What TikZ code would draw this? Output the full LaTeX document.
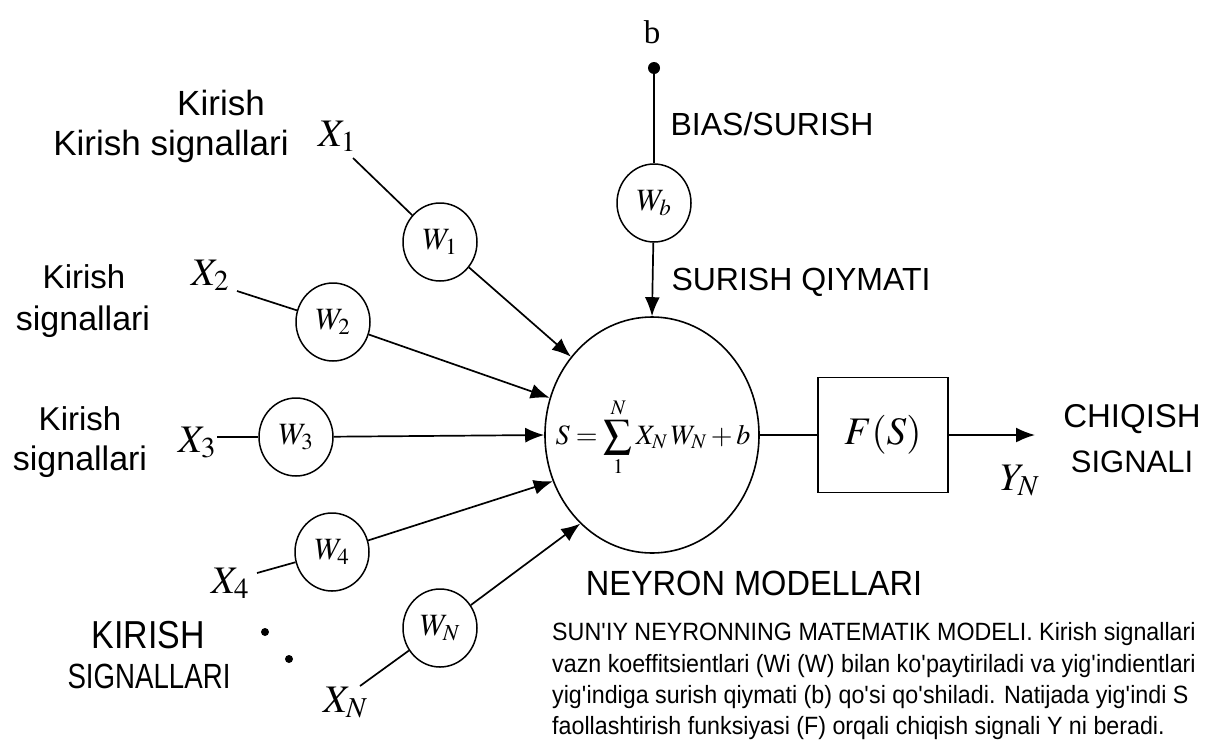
\documentclass[tikz,border=0pt]{standalone}
\usepackage{mathptmx}
\usepackage[no-math]{fontspec}
\setmainfont{Liberation Serif}
\newfontfamily\sansr{Liberation Sans}
\newfontfamily\sansm[FakeStretch=0.93]{Liberation Sans}
\newfontfamily\sansn[FakeStretch=0.87]{Liberation Sans}
\newfontfamily\sansnn[FakeStretch=0.79]{Liberation Sans}
\usetikzlibrary{shapes.geometric,arrows.meta}
\newcommand{\qs}{\textquotesingle}

\begin{document}
\begin{tikzpicture}[x=1pt,y=-1pt,
  conn/.style={line width=1.7pt},
  arr/.style={conn,-{Latex[length=19pt,width=15pt]}},
  wgt/.style={draw,ellipse,line width=1.5pt,minimum width=74pt,minimum height=78pt,
    inner sep=0pt,font=\fontsize{31}{34}\selectfont},
  neuron/.style={draw,ellipse,line width=1.6pt,minimum width=214pt,minimum height=236pt,
    inner sep=0pt},
  actbox/.style={draw,line width=1.6pt,minimum width=130pt,minimum height=115pt,
    inner sep=0pt,font=\fontsize{39}{42}\selectfont},
  xlab/.style={anchor=base west,inner sep=0pt,font=\fontsize{39}{42}\selectfont},
  tx/.style={anchor=base,inner sep=0pt},
  dotn/.style={circle,fill,inner sep=0pt,minimum size=#1},
]
\useasboundingbox (0,0) rectangle (1206,745);
\fill[white] (0,0) rectangle (1206,745);

% neuron body, its summation formula and the activation block
\node[neuron] (N) at (652,435) {};
\node[inner sep=0pt,font=\fontsize{28}{32}\selectfont] (eq) at (653,437)
  {$\displaystyle S=\sum_{1}^{N}X_N\,W_N+b$};
\node[actbox] (F) at (883,435) {$F(S)$};
\coordinate (out) at (1035,435);
\draw[conn] (N) -- (F);
\draw[arr] (F) -- (out);
\node[xlab] (Y) at (1000,490) {$Y_N$};
\node[tx,font=\sansr\fontsize{33}{36}\selectfont] (o1) at (1132,427) {CHIQISH};
\node[tx,font=\sansr\fontsize{31}{36}\selectfont] (o2) at (1132,472) {SIGNALI};
\node[tx,font=\sansm\fontsize{35}{38}\selectfont] (nm) at (754,595) {NEYRON MODELLARI};

% bias branch
\node[dotn=12pt] (bd) at (654,68) {};
\node[tx,font=\fontsize{33}{36}\selectfont] (bl) at (652,43) {b};
\node[wgt] (Wb) at (654,203) {$W_b$};
\draw[conn] (bd) -- (Wb);
\draw[arr] (Wb) -- (N.90);
\node[tx,font=\sansr\fontsize{32}{36}\selectfont] (bs) at (772,135) {BIAS/SURISH};
\node[tx,font=\sansr\fontsize{32}{36}\selectfont] (sq) at (801,290) {SURISH QIYMATI};

% weights
\node[wgt] (W1) at (440,242) {$W_1$};
\node[wgt] (W2) at (333,322) {$W_2$};
\node[wgt] (W3) at (296,437) {$W_3$};
\node[wgt] (W4) at (332,552) {$W_4$};
\node[wgt] (WN) at (440,628) {$W_N$};

% inputs
\node[xlab] (X1) at (318,146) {$X_1$};
\node[xlab] (X2) at (191,285) {$X_2$};
\node[xlab] (X3) at (178,452) {$X_3$};
\node[xlab] (X4) at (211,593) {$X_4$};
\node[xlab] (XN) at (323,712) {$X_N$};
\coordinate (x1e) at (353,158);
\coordinate (x2e) at (237,291);
\coordinate (x3e) at (217,437);
\coordinate (x4e) at (257,573);
\coordinate (xNe) at (360,686);
\draw[conn] (x1e) -- (W1);
\draw[conn] (x2e) -- (W2);
\draw[conn] (x3e) -- (W3);
\draw[conn] (x4e) -- (W4);
\draw[conn] (xNe) -- (WN);
\draw[arr] (W1) -- (N.136);
\draw[arr] (W2) -- (N.160);
\draw[arr] (W3) -- (N.180);
\draw[arr] (W4) -- (N.205);
\draw[arr] (WN) -- (N.231);
\node[dotn=8pt] (d1) at (265,632) {};
\node[dotn=8pt] (d2) at (289,659) {};

% input captions
\node[tx,font=\sansr\fontsize{35}{38}\selectfont] (k1a) at (221,115) {Kirish};
\node[tx,font=\sansr\fontsize{35}{38}\selectfont] (k1b) at (171,155) {Kirish signallari};
\node[tx,font=\sansr\fontsize{33}{38}\selectfont] (k2a) at (84,288) {Kirish};
\node[tx,font=\sansr\fontsize{34}{38}\selectfont] (k2b) at (83,330) {signallari};
\node[tx,font=\sansr\fontsize{33}{38}\selectfont] (k3a) at (80,430) {Kirish};
\node[tx,font=\sansr\fontsize{34}{38}\selectfont] (k3b) at (80,470) {signallari};
\node[tx,font=\sansn\fontsize{39}{42}\selectfont] (k4a) at (148,648) {KIRISH};
\node[tx,font=\sansnn\fontsize{35}{38}\selectfont] (k4b) at (149,688) {SIGNALLARI};

% caption
\begin{scope}[every node/.style={anchor=base west,inner sep=0pt,font=\sansm\fontsize{25}{32}\selectfont}]
\node (p1) at (552,640) {SUN\qs IY NEYRONNING MATEMATIK MODELI. Kirish signallari};
\node (p2) at (552,672) {vazn koeffitsientlari (Wi (W) bilan ko\qs paytiriladi va yig\qs indientlari};
\node (p3) at (552,703) {yig\qs indiga surish qiymati (b) qo\qs si qo\qs shiladi. Natijada yig\qs indi S};
\node (p4) at (552,734) {faollashtirish funksiyasi (F) orqali chiqish signali Y ni beradi.};
\end{scope}
\end{tikzpicture}
\end{document}
